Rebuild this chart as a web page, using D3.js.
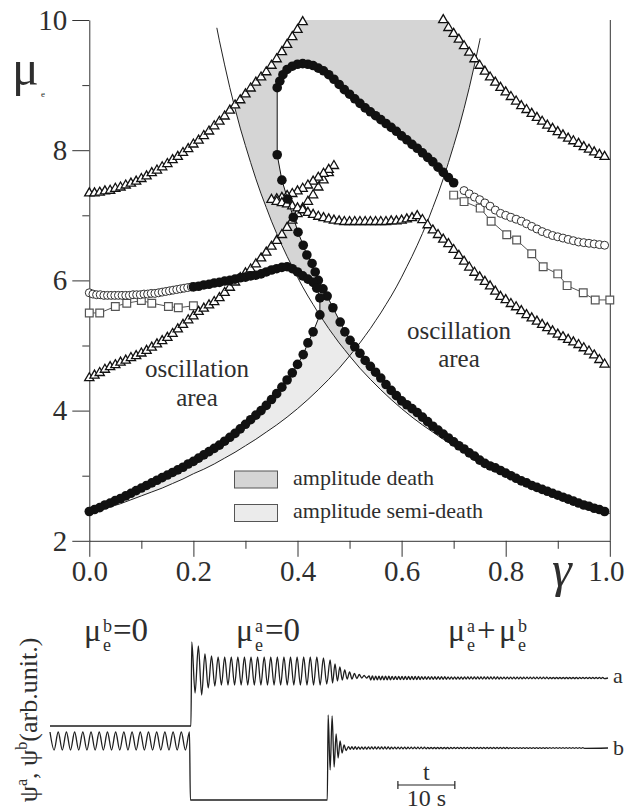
<!DOCTYPE html>
<html>
<head>
<meta charset="utf-8">
<script src="https://cdn.jsdelivr.net/npm/d3@7"></script>
<style>
  body { margin: 0; background: #fff; }
  svg text { font-family: 'Liberation Serif', 'DejaVu Serif', 'Noto Serif', serif; fill: #2e2e2e; }
</style>
</head>
<body>
<svg id="chart" width="626" height="812"></svg>
<script>
// ---- top panel data: [gamma, mu_e] ----
const triUpperL = [[0,7.34],[0.01,7.34],[0.02,7.35],[0.03,7.37],[0.04,7.38],[0.05,7.41],[0.06,7.43],[0.07,7.46],[0.08,7.49],[0.09,7.52],[0.10,7.56],[0.11,7.60],[0.12,7.65],[0.13,7.69],[0.14,7.74],[0.15,7.79],[0.16,7.85],[0.17,7.90],[0.18,7.96],[0.19,8.02],[0.20,8.09],[0.21,8.15],[0.22,8.22],[0.23,8.29],[0.24,8.37],[0.25,8.44],[0.26,8.52],[0.27,8.61],[0.28,8.69],[0.29,8.77],[0.30,8.86],[0.31,8.95],[0.32,9.04],[0.33,9.12],[0.34,9.20],[0.35,9.30],[0.36,9.40],[0.37,9.51],[0.38,9.62],[0.39,9.74],[0.40,9.85],[0.41,9.97]];
const triUpperR = [[0.68,10.0],[0.69,9.88],[0.70,9.79],[0.71,9.70],[0.72,9.60],[0.73,9.50],[0.74,9.40],[0.75,9.30],[0.76,9.21],[0.77,9.12],[0.78,9.04],[0.79,8.96],[0.80,8.89],[0.81,8.82],[0.82,8.75],[0.83,8.68],[0.84,8.62],[0.85,8.56],[0.86,8.50],[0.87,8.44],[0.88,8.38],[0.89,8.33],[0.90,8.28],[0.91,8.23],[0.92,8.18],[0.93,8.14],[0.94,8.10],[0.95,8.05],[0.96,8.01],[0.97,7.97],[0.98,7.93],[0.99,7.90]];
const triLowerL = [[0,4.50],[0.01,4.54],[0.02,4.58],[0.03,4.63],[0.04,4.67],[0.05,4.70],[0.06,4.74],[0.07,4.77],[0.08,4.81],[0.09,4.84],[0.10,4.88],[0.11,4.92],[0.12,4.97],[0.13,5.02],[0.14,5.07],[0.15,5.12],[0.16,5.18],[0.17,5.25],[0.18,5.32],[0.19,5.39],[0.20,5.45],[0.21,5.52],[0.22,5.57],[0.23,5.62],[0.24,5.67],[0.25,5.73],[0.26,5.81],[0.27,5.89],[0.28,5.97],[0.29,6.04],[0.30,6.11],[0.31,6.17],[0.32,6.25],[0.33,6.34],[0.34,6.43],[0.35,6.52],[0.36,6.61],[0.37,6.70],[0.38,6.81],[0.39,6.92],[0.40,7.02],[0.41,7.11],[0.42,7.21],[0.43,7.31],[0.44,7.43],[0.45,7.54],[0.46,7.65],[0.47,7.76]];
const triLowerR = [[0.46,7.70],[0.45,7.64],[0.44,7.58],[0.43,7.52],[0.42,7.46],[0.41,7.41],[0.40,7.37],[0.39,7.33],[0.38,7.30],[0.37,7.27],[0.36,7.25],[0.35,7.24],[0.36,7.21],[0.37,7.19],[0.38,7.17],[0.39,7.14],[0.40,7.11],[0.41,7.08],[0.42,7.04],[0.43,7.01],[0.44,6.98],[0.45,6.96],[0.46,6.94],[0.47,6.92],[0.48,6.91],[0.49,6.90],[0.50,6.90],[0.51,6.90],[0.52,6.90],[0.53,6.90],[0.54,6.90],[0.55,6.90],[0.56,6.90],[0.57,6.90],[0.58,6.91],[0.59,6.91],[0.60,6.92],[0.61,6.94],[0.62,6.96],[0.63,6.99],[0.64,6.93],[0.65,6.85],[0.66,6.77],[0.67,6.70],[0.68,6.63],[0.69,6.56],[0.70,6.47],[0.71,6.38],[0.72,6.29],[0.73,6.20],[0.74,6.12],[0.75,6.05],[0.76,5.98],[0.77,5.91],[0.78,5.83],[0.79,5.75],[0.80,5.70],[0.81,5.64],[0.82,5.59],[0.83,5.53],[0.84,5.47],[0.85,5.42],[0.86,5.37],[0.87,5.32],[0.88,5.27],[0.89,5.22],[0.90,5.17],[0.91,5.13],[0.92,5.09],[0.93,5.05],[0.94,5.01],[0.95,4.96],[0.96,4.91],[0.97,4.85],[0.98,4.78],[0.99,4.71]];

// filled circles: the arch branch, then its left side and the column down to gamma = 1
const filledA = [[0.70,7.50],[0.69,7.58],[0.68,7.66],[0.67,7.74],[0.66,7.82],[0.65,7.89],[0.64,7.96],[0.63,8.03],[0.62,8.09],[0.61,8.16],[0.60,8.22],[0.59,8.29],[0.58,8.35],[0.57,8.41],[0.56,8.47],[0.55,8.53],[0.54,8.59],[0.53,8.65],[0.52,8.72],[0.51,8.79],[0.50,8.86],[0.49,8.93],[0.48,9.01],[0.47,9.09],[0.46,9.16],[0.45,9.22],[0.44,9.26],[0.43,9.30],[0.42,9.32],[0.41,9.33],[0.40,9.32],[0.39,9.29],[0.38,9.24],[0.372,9.16],[0.366,9.06],[0.361,8.96],[0.361,7.93],[0.370,7.54],[0.381,7.25],[0.392,6.97],[0.401,6.74],[0.411,6.54],[0.418,6.39],[0.428,6.26],[0.434,6.13],[0.440,6.00],[0.449,5.87],[0.457,5.76],[0.468,5.58],[0.482,5.36],[0.491,5.21],[0.501,5.08],[0.51,4.98],[0.52,4.88],[0.53,4.77],[0.54,4.68],[0.55,4.59],[0.56,4.50],[0.57,4.40],[0.58,4.31],[0.59,4.23],[0.60,4.15],[0.61,4.09],[0.62,4.03],[0.63,3.97],[0.64,3.90],[0.65,3.83],[0.66,3.76],[0.67,3.70],[0.68,3.64],[0.69,3.58],[0.70,3.52],[0.71,3.46],[0.72,3.41],[0.73,3.35],[0.74,3.30],[0.75,3.24],[0.76,3.19],[0.77,3.15],[0.78,3.12],[0.79,3.08],[0.80,3.04],[0.81,3.00],[0.82,2.96],[0.83,2.92],[0.84,2.89],[0.85,2.85],[0.86,2.82],[0.87,2.79],[0.88,2.76],[0.89,2.73],[0.90,2.70],[0.91,2.67],[0.92,2.64],[0.93,2.61],[0.94,2.58],[0.95,2.55],[0.96,2.53],[0.97,2.50],[0.98,2.48],[0.99,2.45]];
// filled circles: hump near 6.2, then the fold back down to gamma = 0
const filledBUpper = [[0.20,5.90],[0.21,5.91],[0.22,5.93],[0.23,5.94],[0.24,5.96],[0.25,5.97],[0.26,5.99],[0.27,6.00],[0.28,6.02],[0.29,6.04],[0.30,6.05],[0.31,6.07],[0.32,6.08],[0.33,6.10],[0.34,6.13],[0.35,6.16],[0.36,6.18],[0.37,6.20],[0.38,6.21],[0.39,6.18],[0.40,6.13],[0.41,6.07],[0.42,6.02],[0.43,5.97],[0.437,5.88],[0.443,5.73]];
const filledBLower = [[0.443,5.47],[0.430,5.21],[0.420,5.04],[0.411,4.86],[0.40,4.71],[0.39,4.58],[0.38,4.47],[0.37,4.36],[0.36,4.26],[0.35,4.17],[0.34,4.08],[0.33,4.00],[0.32,3.93],[0.31,3.86],[0.30,3.79],[0.29,3.72],[0.28,3.65],[0.27,3.59],[0.26,3.53],[0.25,3.47],[0.24,3.42],[0.23,3.37],[0.22,3.32],[0.21,3.27],[0.20,3.22],[0.19,3.18],[0.18,3.13],[0.17,3.09],[0.16,3.05],[0.15,3.01],[0.14,2.97],[0.13,2.93],[0.12,2.89],[0.11,2.85],[0.10,2.81],[0.09,2.77],[0.08,2.73],[0.07,2.69],[0.06,2.65],[0.05,2.62],[0.04,2.58],[0.03,2.55],[0.02,2.51],[0.01,2.48],[0,2.45]];

const openL = [[0,5.81],[0.007,5.79],[0.014,5.78],[0.021,5.78],[0.028,5.77],[0.035,5.77],[0.042,5.77],[0.049,5.77],[0.056,5.77],[0.063,5.77],[0.070,5.77],[0.077,5.77],[0.084,5.78],[0.091,5.78],[0.098,5.78],[0.105,5.79],[0.112,5.79],[0.119,5.80],[0.126,5.80],[0.133,5.81],[0.140,5.82],[0.147,5.83],[0.154,5.84],[0.161,5.85],[0.168,5.86],[0.175,5.87],[0.182,5.88],[0.189,5.89],[0.196,5.90]];
const openR = [[0.72,7.38],[0.73,7.33],[0.74,7.28],[0.75,7.24],[0.76,7.19],[0.77,7.14],[0.78,7.08],[0.79,7.03],[0.80,7.00],[0.81,6.97],[0.82,6.94],[0.83,6.91],[0.84,6.87],[0.85,6.83],[0.86,6.79],[0.87,6.75],[0.88,6.72],[0.89,6.69],[0.90,6.67],[0.91,6.65],[0.92,6.63],[0.93,6.61],[0.94,6.59],[0.95,6.58],[0.96,6.57],[0.97,6.56],[0.98,6.55],[0.99,6.54]];
const squareL = [[0,5.50],[0.02,5.50],[0.05,5.60],[0.072,5.65],[0.10,5.69],[0.12,5.65],[0.152,5.60],[0.171,5.58],[0.20,5.61]];
const squareR = [[0.70,7.31],[0.72,7.21],[0.751,7.11],[0.772,6.91],[0.802,6.70],[0.821,6.62],[0.85,6.41],[0.872,6.21],[0.90,6.10],[0.918,5.92],[0.949,5.81],[0.972,5.70],[1.0,5.70]];

// thin boundary curves
const curveA = [[0.245,9.88],[0.25,9.68],[0.26,9.31],[0.27,8.96],[0.28,8.64],[0.29,8.34],[0.30,8.07],[0.31,7.81],[0.32,7.56],[0.33,7.33],[0.34,7.12],[0.35,6.91],[0.36,6.72],[0.37,6.54],[0.38,6.37],[0.39,6.21],[0.40,6.05],[0.41,5.90],[0.42,5.76],[0.43,5.63],[0.44,5.50],[0.45,5.38],[0.46,5.26],[0.47,5.15],[0.48,5.04],[0.49,4.94],[0.50,4.84],[0.52,4.65],[0.54,4.48],[0.56,4.32],[0.58,4.17],[0.60,4.03],[0.62,3.90],[0.64,3.78],[0.66,3.67],[0.68,3.56],[0.70,3.46],[0.72,3.36],[0.74,3.27],[0.76,3.18],[0.78,3.10],[0.80,3.03],[0.82,2.95],[0.84,2.88],[0.86,2.81],[0.88,2.75],[0.90,2.69],[0.92,2.63],[0.94,2.57],[0.96,2.52],[0.98,2.47],[1.0,2.42]];
const curveB = [[0,2.42],[0.02,2.47],[0.04,2.52],[0.06,2.57],[0.08,2.63],[0.10,2.69],[0.12,2.75],[0.14,2.81],[0.16,2.88],[0.18,2.95],[0.20,3.03],[0.22,3.10],[0.24,3.18],[0.26,3.27],[0.28,3.36],[0.30,3.46],[0.32,3.56],[0.34,3.67],[0.36,3.78],[0.38,3.90],[0.40,4.03],[0.42,4.17],[0.44,4.32],[0.46,4.48],[0.48,4.65],[0.50,4.84],[0.51,4.94],[0.52,5.04],[0.53,5.15],[0.54,5.26],[0.55,5.38],[0.56,5.50],[0.57,5.63],[0.58,5.76],[0.59,5.90],[0.60,6.05],[0.61,6.21],[0.62,6.37],[0.63,6.54],[0.64,6.72],[0.65,6.91],[0.66,7.12],[0.67,7.33],[0.68,7.56],[0.69,7.81],[0.70,8.07],[0.71,8.34],[0.72,8.64],[0.73,8.96],[0.74,9.31],[0.75,9.68],[0.751,9.72]];

const xTicks = [0, 0.2, 0.4, 0.6, 0.8, 1.0];
const xMinor = [0.1, 0.3, 0.5, 0.7, 0.9];
const yTicks = [2, 4, 6, 8, 10];
const yMinor = [3, 5, 7, 9];

// ---- bottom panel data: read extremes of psi (arb. units), time in s ----
const traceAMain = [15.8,10.7,15.4,10.5,14.6,11.2,14.4,11.4,14.3,11.5,14.3,11.5,14.3,11.5,14.3,11.5,14.3,11.5,14.3,11.5,14.3,11.5,14.3,11.5,14.3,11.5,14.3,11.5,14.3,11.5,14.3,11.5,14.3,11.5,14.3,11.5,14.3,11.5,14.3,11.5,14.2,11.6];
const traceADecay = [14.0,11.7,13.6,11.9,13.3,12.0,13.0,12.1,12.8,12.1,12.65,12.15,12.55,12.2,12.45,12.2];
const traceATail = [0.20,0.20,0.19,0.19,0.18,0.18,0.18,0.17,0.17,0.17,0.16,0.16,0.16,0.15,0.15,0.15,0.14,0.14,0.14,0.14,0.13,0.13,0.13,0.13,0.12,0.12,0.12,0.12,0.12,0.11,0.11,0.11,0.11,0.11,0.10,0.10,0.10,0.10,0.10,0.10,0.09,0.09,0.09,0.09,0.09,0.09,0.09,0.08,0.08,0.08,0.08,0.08,0.08,0.08,0.08,0.07,0.07,0.07,0.07,0.07,0.07,0.07,0.07,0.07,0.06,0.06,0.06,0.06,0.06,0.06,0.06,0.06];
const traceBLeft = [6.8,5.0,6.8,5.0,6.8,5.0,6.8,5.0,6.8,5.0,6.8,5.0,6.8,5.0,6.8,5.0,6.8,5.0,6.8,5.0,6.8,5.0,6.8,5.0,6.8,5.0,6.8,5.0,6.8,5.0,6.8,5.0,6.8,5.0,6.8];
const traceBKick = [8.5,3.0,8.4,3.3,6.6,4.2,5.9,4.7,5.5,4.95];
const traceBTail = [0.14,0.13,0.13,0.12,0.12,0.12,0.11,0.11,0.11,0.10,0.10,0.10,0.10,0.09,0.09,0.09,0.09,0.09,0.08,0.08,0.08,0.08,0.08,0.08,0.07,0.07,0.07,0.07,0.07,0.07,0.07,0.06,0.06,0.06,0.06,0.06,0.06,0.06,0.06,0.05,0.05,0.05,0.05,0.05,0.05,0.05,0.05,0.05,0.05,0.04,0.04,0.04,0.04,0.04,0.04,0.04,0.04,0.04,0.04,0.04,0.04,0.03,0.03,0.03,0.03,0.03,0.03,0.03,0.03,0.03,0.03,0.03];

const svg = d3.select('#chart');

const x = d3.scaleLinear().domain([0, 1]).range([89.3, 609.8]);
const y = d3.scaleLinear().domain([2, 10]).range([540.8, 20]);
const line = d3.line().x(d => x(d[0])).y(d => y(d[1]));

// clip regions above each boundary curve
const aboveA = curveA.concat([[1, 10.6], [curveA[0][0], 10.6]]);
const aboveB = curveB.concat([[curveB[curveB.length - 1][0], 10.6], [0, 10.6]]);
const defs = svg.append('defs');
defs.append('clipPath').attr('id', 'clipA').append('path').attr('d', line(aboveA) + 'Z');
defs.append('clipPath').attr('id', 'clipB').append('path').attr('d', line(aboveB) + 'Z');
const either = defs.append('clipPath').attr('id', 'clipAB');
either.append('path').attr('d', line(aboveA) + 'Z');
either.append('path').attr('d', line(aboveB) + 'Z');

// outline of the non-oscillating area, bounded by the stable branches
const deathEdge = [].concat(
    [[0, 1.9]],
    filledBLower.slice().reverse(),
    filledBUpper.filter(d => d[0] >= 0.39).reverse(),
    curveA.filter(d => d[0] >= 0.28 && d[0] <= 0.38).reverse(),
    triUpperL.filter(d => d[0] >= 0.28),
    [[0.41, 10], [0.68, 10]],
    triUpperR.filter(d => d[0] <= 0.74),
    curveB.filter(d => d[0] >= 0.69 && d[0] <= 0.74).reverse(),
    filledA.filter((d, i) => i >= 2),
    [[1, 2.45], [1, 1.9]]
);

svg.append('path')
    .attr('d', line(deathEdge) + 'Z')
    .attr('fill', '#ebebeb')
    .attr('clip-path', 'url(#clipAB)');
svg.append('g').attr('clip-path', 'url(#clipA)')
    .append('path')
    .attr('d', line(deathEdge) + 'Z')
    .attr('fill', '#d5d5d5')
    .attr('clip-path', 'url(#clipB)');

// boundary curves
[curveA, curveB].forEach(c => {
    svg.append('path').attr('d', line(c)).attr('fill', 'none')
        .attr('stroke', '#222').attr('stroke-width', 1);
});

// axes
const styleAxis = g => {
    g.attr('font-family', null).attr('font-size', null);
    g.select('.domain').attr('stroke', '#333');
    g.selectAll('.tick line').attr('stroke', '#333');
    g.selectAll('text').attr('font-size', 29).attr('fill', '#333');
};
svg.append('g').attr('transform', `translate(${x(0)},0)`)
    .call(d3.axisLeft(y).tickValues(yTicks).tickSize(17).tickSizeOuter(0).tickPadding(5).tickFormat(d3.format('d')))
    .call(styleAxis);
svg.append('g').attr('transform', `translate(${x(0)},0)`)
    .call(d3.axisLeft(y).tickValues(yMinor).tickSize(7).tickSizeOuter(0).tickFormat(''))
    .call(g => g.select('.domain').remove())
    .call(styleAxis);
svg.append('g').attr('transform', `translate(0,${y(2)})`)
    .call(d3.axisBottom(x).tickValues(xTicks).tickSize(16).tickSizeOuter(0).tickPadding(4).tickFormat(d3.format('.1f')))
    .call(styleAxis)
    .call(g => g.selectAll('.tick text').filter(d => d === 1).attr('dx', -4));
svg.append('g').attr('transform', `translate(0,${y(2)})`)
    .call(d3.axisBottom(x).tickValues(xMinor).tickSize(8).tickSizeOuter(0).tickFormat(''))
    .call(g => g.select('.domain').remove())
    .call(styleAxis);
svg.append('line')
    .attr('x1', x(1) + 0.5).attr('x2', x(1) + 0.5)
    .attr('y1', y(10)).attr('y2', y(2))
    .attr('stroke', '#333');

// axis titles
svg.append('text').attr('x', 12).attr('y', 85).attr('font-size', 50).text('μ');
svg.append('text').attr('x', 41).attr('y', 97).attr('font-size', 9).text('e');
svg.append('text').attr('x', 552).attr('y', 586).attr('font-size', 50)
    .attr('font-style', 'italic').text('γ');

// series
const tri = d3.symbol().type(d3.symbolTriangle).size(37)();
const sq = d3.symbol().type(d3.symbolSquare).size(60)();

[squareL, squareR].forEach(s => {
    svg.append('path').attr('d', line(s)).attr('fill', 'none')
        .attr('stroke', '#555').attr('stroke-width', 1);
    svg.append('g').selectAll('path').data(s).join('path')
        .attr('d', sq)
        .attr('transform', d => `translate(${x(d[0])},${y(d[1])})`)
        .attr('fill', '#fff').attr('stroke', '#555').attr('stroke-width', 1.2);
});

[triUpperL, triUpperR, triLowerL, triLowerR].forEach(s => {
    svg.append('g').selectAll('path').data(s).join('path')
        .attr('d', tri)
        .attr('transform', d => `translate(${x(d[0])},${y(d[1])})`)
        .attr('fill', '#fff').attr('stroke', '#111').attr('stroke-width', 1.3);
});

[openL, openR].forEach(s => {
    svg.append('g').selectAll('circle').data(s).join('circle')
        .attr('cx', d => x(d[0])).attr('cy', d => y(d[1])).attr('r', 4)
        .attr('fill', '#fff').attr('stroke', '#333').attr('stroke-width', 1);
});

const filledB = filledBUpper.concat(filledBLower);
[filledA, filledB].forEach(s => {
    svg.append('path').attr('d', line(s)).attr('fill', 'none')
        .attr('stroke', '#111').attr('stroke-width', 1);
    svg.append('g').selectAll('circle').data(s).join('circle')
        .attr('cx', d => x(d[0])).attr('cy', d => y(d[1])).attr('r', 4.8)
        .attr('fill', '#111');
});

// region labels
const label = (tx, ty, str, size) => svg.append('text')
    .attr('x', tx).attr('y', ty).attr('font-size', size)
    .attr('text-anchor', 'middle').text(str);
label(197, 377, 'oscillation', 25);
label(197, 406, 'area', 25);
label(459, 339, 'oscillation', 25);
label(459, 367, 'area', 25);

// legend
const legend = [['#d5d5d5', 'amplitude death', 471], ['#ebebeb', 'amplitude semi-death', 504.5]];
legend.forEach(([fill, txt, ty]) => {
    svg.append('rect').attr('x', 234.5).attr('y', ty).attr('width', 43).attr('height', 17)
        .attr('fill', fill).attr('stroke', '#555').attr('stroke-width', 1);
    svg.append('text').attr('x', 293).attr('y', ty + 13.5).attr('font-size', 22).text(txt);
});

// ---- bottom panel ----
const tScale = d3.scaleLinear().domain([0, 98]).range([50, 608]);
const psi = d3.scaleLinear().domain([0, 18]).range([800, 620]);
const trace = d3.line().x(d => tScale(d[0])).y(d => psi(d[1])).curve(d3.curveMonotoneX);

// read extremes laid out evenly over their time span
function spread(t0, t1, vals) {
    const h = (t1 - t0) / (vals.length - 1);
    return vals.map((v, i) => [t0 + i * h, v]);
}
// small ringing: one read amplitude per cycle around a centre level
function ringing(t0, t1, centre, amps) {
    const h = (t1 - t0) / (2 * amps.length);
    const out = [];
    amps.forEach((a, i) => {
        out.push([t0 + (2 * i + 0.5) * h, centre + a]);
        out.push([t0 + (2 * i + 1.5) * h, centre - a]);
    });
    return out;
}

const traceA = [[0, 7.4], [24.75, 7.4]].concat(
    spread(24.9, 48.6, traceAMain),
    spread(49.2, 55.6, traceADecay),
    ringing(55.9, 97.5, 12.2, traceATail),
    [[98, 12.2]]
);
const traceB = spread(0, 24.5, traceBLeft).concat(
    [[24.65, 0], [48.7, 0]],
    spread(48.85, 52, traceBKick),
    ringing(52.3, 94, 5.2, traceBTail),
    [[98, 5.2]]
);
[traceA, traceB].forEach(s => {
    svg.append('path').attr('d', trace(s)).attr('fill', 'none')
        .attr('stroke', '#1e1e1e').attr('stroke-width', 1.3);
});
svg.append('text').attr('x', 613).attr('y', 683).attr('font-size', 22).text('a');
svg.append('text').attr('x', 613).attr('y', 755).attr('font-size', 22).text('b');

// regime labels: mu with sub/superscripts
function muLabel(x0, sup) {
    svg.append('text').attr('x', x0).attr('y', 641).attr('font-size', 32).text('μ');
    svg.append('text').attr('x', x0 + 19).attr('y', 632).attr('font-size', 18).text(sup);
    svg.append('text').attr('x', x0 + 19).attr('y', 651).attr('font-size', 18).text('e');
}
muLabel(84, 'b');
svg.append('text').attr('x', 113).attr('y', 641).attr('font-size', 33).text('=0');
muLabel(236, 'a');
svg.append('text').attr('x', 265).attr('y', 641).attr('font-size', 33).text('=0');
muLabel(448, 'a');
svg.append('text').attr('x', 477).attr('y', 641).attr('font-size', 33).text('+');
muLabel(499, 'b');

// rotated ordinate title
const yl = svg.append('text').attr('font-size', 26).attr('text-anchor', 'middle')
    .attr('transform', 'translate(37,720) rotate(-90)');
yl.append('tspan').text('ψ');
yl.append('tspan').attr('dy', -10).attr('font-size', 16).text('a');
yl.append('tspan').attr('dy', 10).text(', ψ');
yl.append('tspan').attr('dy', -10).attr('font-size', 16).text('b');
yl.append('tspan').attr('dy', 10).text('(arb.unit.)');

// time scale bar
const bar = svg.append('g').attr('stroke', '#222').attr('stroke-width', 1.2);
bar.append('line').attr('x1', tScale(61.1)).attr('x2', tScale(71.1)).attr('y1', 785).attr('y2', 785);
[61.1, 71.1].forEach(t => bar.append('line')
    .attr('x1', tScale(t)).attr('x2', tScale(t)).attr('y1', 781).attr('y2', 789));
svg.append('text').attr('x', tScale(66.1)).attr('y', 780).attr('font-size', 24)
    .attr('text-anchor', 'middle').text('t');
svg.append('text').attr('x', tScale(66.1)).attr('y', 806).attr('font-size', 24)
    .attr('text-anchor', 'middle').text('10 s');
</script>
</body>
</html>
